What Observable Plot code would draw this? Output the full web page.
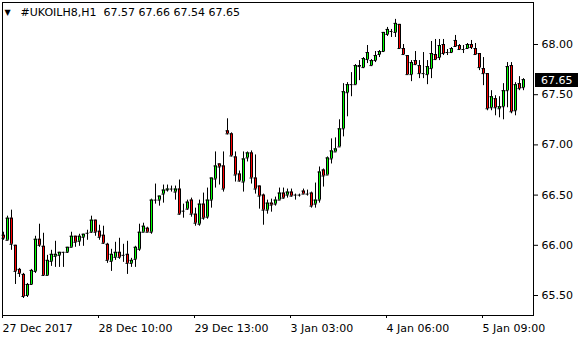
<!DOCTYPE html>
<html><head><meta charset="utf-8">
<script src="https://cdn.jsdelivr.net/npm/d3@7"></script>
<script src="https://cdn.jsdelivr.net/npm/@observablehq/plot@0.6"></script>
<style>html,body{margin:0;padding:0;background:#fff;} svg{display:block;}</style>
</head><body><div id="chart"></div>
<script>
const symbol = "#UKOILH8,H1";
const open = [66.10,66.05,66.27,66.00,65.76,65.71,65.50,65.61,65.74,66.06,
65.99,65.70,65.84,65.89,65.90,65.93,65.93,65.98,66.09,66.04,
66.08,66.12,66.13,66.25,66.14,66.10,66.01,65.84,65.88,65.93,
65.90,65.91,65.82,65.86,65.96,66.13,66.17,66.13,66.45,66.45,
66.51,66.55,66.56,66.53,66.56,66.34,66.36,66.45,66.31,66.21,
66.41,66.28,66.45,66.66,66.81,66.79,67.14,67.11,66.88,66.71,
66.63,66.87,66.92,66.67,66.59,66.50,66.35,66.42,66.41,66.45,
66.52,66.50,66.53,66.50,66.50,66.54,66.51,66.52,66.41,66.45,
66.75,66.70,66.86,66.93,66.98,67.16,67.52,67.60,67.60,67.78,
67.77,67.85,67.79,67.84,67.90,67.93,68.10,68.13,68.12,68.20,
67.96,67.89,67.70,67.84,67.79,67.71,67.70,67.76,67.90,67.87,
68.00,67.92,67.92,68.04,67.99,67.95,67.96,68.00,67.96,67.91,
67.76,67.71,67.37,67.46,67.36,67.38,67.54,67.79,67.34,67.61,
67.57];
const high = [66.13,66.29,66.35,66.00,65.77,65.72,65.62,65.76,66.09,66.21,
66.12,65.90,65.95,66.04,65.93,65.93,65.98,66.13,66.09,66.11,
66.11,66.15,66.29,66.25,66.20,66.19,66.02,65.96,66.03,66.07,
66.01,66.04,65.87,65.99,66.21,66.22,66.18,66.46,66.61,66.49,
66.60,66.60,66.59,66.59,66.65,66.41,66.45,66.47,66.37,66.45,
66.52,66.57,66.67,66.93,66.81,66.93,67.26,67.12,66.93,66.74,
66.93,66.93,66.94,66.90,66.59,66.51,66.45,66.46,66.48,66.57,
66.57,66.56,66.56,66.51,66.51,66.56,66.55,66.53,66.62,66.78,
66.76,66.88,67.06,67.07,67.25,67.61,67.62,67.72,67.80,67.84,
67.87,67.99,67.85,67.93,67.94,68.12,68.17,68.15,68.25,68.20,
68.00,67.89,67.84,67.93,67.84,67.92,67.84,68.03,68.05,68.05,
68.05,67.95,67.97,68.09,68.00,67.99,68.01,68.04,68.01,67.91,
67.87,67.71,67.54,67.49,67.48,67.61,67.82,67.82,67.62,67.68,
67.66];
const low = [66.05,66.05,65.95,65.61,65.68,65.47,65.48,65.60,65.72,65.98,
65.69,65.70,65.79,65.78,65.78,65.78,65.92,65.98,65.98,65.99,
65.99,66.05,66.12,66.09,66.05,66.01,65.82,65.74,65.85,65.86,
65.83,65.71,65.78,65.78,65.94,66.13,66.13,66.11,66.41,66.39,
66.42,66.53,66.53,66.45,66.30,66.27,66.35,66.28,66.19,66.19,
66.25,66.26,66.37,66.57,66.60,66.53,67.10,66.88,66.63,66.63,
66.53,66.83,66.61,66.51,66.36,66.20,66.31,66.33,66.39,66.45,
66.46,66.47,66.48,66.45,66.48,66.51,66.49,66.37,66.37,66.42,
66.58,66.70,66.81,66.93,66.98,67.08,67.28,67.48,67.60,67.64,
67.76,67.81,67.78,67.82,67.87,67.92,68.08,68.07,68.07,67.96,
67.89,67.70,67.63,67.79,67.66,67.66,67.60,67.66,67.84,67.84,
67.89,67.89,67.91,67.97,67.95,67.91,67.95,67.95,67.90,67.74,
67.59,67.34,67.34,67.29,67.27,67.25,67.37,67.31,67.29,67.54,
67.54];
const close = [66.07,66.27,66.01,65.74,65.72,65.49,65.61,65.75,66.06,66.00,
65.70,65.85,65.91,65.91,65.93,65.93,65.98,66.09,66.03,66.09,
66.11,66.13,66.25,66.13,66.08,66.02,65.85,65.91,65.93,65.88,
65.90,65.82,65.85,65.98,66.13,66.19,66.13,66.45,66.45,66.49,
66.55,66.56,66.56,66.56,66.31,66.35,66.43,66.31,66.22,66.41,
66.27,66.45,66.67,66.79,66.78,66.56,67.11,66.89,66.70,66.64,
66.86,66.92,66.67,66.56,66.49,66.35,66.42,66.40,66.45,66.52,
66.47,66.53,66.49,66.50,66.50,66.51,66.51,66.39,66.45,66.73,
66.69,66.87,66.94,66.96,67.16,67.53,67.60,67.59,67.79,67.79,
67.86,67.92,67.84,67.89,67.93,68.12,68.15,68.13,68.21,67.96,
67.90,67.70,67.82,67.80,67.71,67.71,67.78,67.91,67.85,67.99,
67.91,67.92,67.96,67.98,67.95,67.95,68.00,67.97,67.90,67.77,
67.71,67.36,67.48,67.37,67.38,67.54,67.78,67.33,67.60,67.56,
67.65];
const xTickBars = [0, 24, 48, 72, 96, 120];
const xTickLabels = ["27 Dec 2017", "28 Dec 10:00", "29 Dec 13:00", "3 Jan 03:00", "4 Jan 06:00", "5 Jan 09:00"];
const yTicks = [65.5, 66.0, 66.5, 67.0, 67.5, 68.0];

// detect the sub-pixel offset Plot applies to rules, so 1px lines land on pixel centres
const probe = Plot.plot({width: 100, height: 50, margin: 0, x: {domain: [0, 1], range: [10, 20], axis: null}, y: {axis: null},
  marks: [Plot.ruleX([0])]});
document.body.appendChild(probe);
const probeLine = probe.querySelector("line");
const off = (+probeLine.getAttribute("x1") + probeLine.getCTM().e) - 10;
probe.remove();

const bars = open.map((o, i) => ({i, open: o, high: high[i], low: low[i], close: close[i],
  top: Math.max(o, close[i]), bottom: Math.min(o, close[i])}));
const bodies = bars.filter(d => d.top - d.bottom >= 0.01);
const bull = bodies.filter(d => d.close > d.open);
const bear = bodies.filter(d => d.close < d.open);
const dojis = bars.filter(d => d.top - d.bottom < 0.01);
const last = bars[bars.length - 1];
const fmt = d3.format(".2f");
const titleText = symbol + "\u00a0\u00a0" + [last.open, last.high, last.low, last.close].map(fmt).join(" ");
const edgeX1 = d => d.i - 0.375, edgeX2 = d => d.i + 0.375;

const chart = Plot.plot({
  width: 580, height: 340,
  marginLeft: 2.5 - off, marginTop: 2.5 - off, marginRight: 46.5 + off, marginBottom: 24.5 + off,
  x: {domain: [0, 130], range: [3.5 - off, 523.5 - off]},
  y: {domain: [65.5, 68], range: [295.5 - off, 44.5 - off]},
  style: {fontFamily: "DejaVu Sans", fontSize: "11px", color: "black", background: "white", overflow: "visible"},
  marks: [
    Plot.frame({stroke: "black"}),
    Plot.axisY(yTicks, {anchor: "right", tickSize: 4, tickPadding: 4, tickFormat: fmt, label: null, fontSize: 11}),
    Plot.axisX(xTickBars, {anchor: "bottom", tickSize: 3, tickPadding: 6, tickFormat: d => xTickLabels[xTickBars.indexOf(d)], textAnchor: "start", dx: -1, label: null, fontSize: 11}),
    // wicks
    Plot.ruleX(bars, {x: "i", y1: "low", y2: "high", stroke: "black"}),
    // body fill (centre column)
    Plot.ruleX(bull, {x: "i", y1: "top", y2: "bottom", stroke: "#00ff00"}),
    Plot.ruleX(bear, {x: "i", y1: "top", y2: "bottom", stroke: "#ff0000"}),
    // body outline: left, right, top, bottom
    Plot.ruleX(bodies, {x: "i", y1: "top", y2: "bottom", stroke: "black", dx: -1}),
    Plot.ruleX(bodies, {x: "i", y1: "top", y2: "bottom", stroke: "black", dx: 1}),
    Plot.ruleY(bodies, {y: "top", x1: edgeX1, x2: edgeX2, stroke: "black"}),
    Plot.ruleY(bodies, {y: "bottom", x1: edgeX1, x2: edgeX2, stroke: "black"}),
    // doji bars
    Plot.ruleY(dojis, {y: "open", x1: edgeX1, x2: edgeX2, stroke: "black"}),
    Plot.text(["\u25BC"], {frameAnchor: "top-left", dx: 5, dy: 10, fontSize: 8, textAnchor: "middle", lineAnchor: "middle", fill: "black"}),
    Plot.text([titleText], {frameAnchor: "top-left", dx: 18, dy: 10, fontSize: 11, textAnchor: "start", lineAnchor: "middle", fill: "black"})
  ]
});

// current price label on the right axis, positioned with the y scale
const yPos = chart.scale("y").apply(last.close) + off;
const svg = d3.select(chart);
const g = svg.append("g").attr("text-anchor", "start");
g.append("rect").attr("x", 535).attr("y", Math.round(yPos) - 7).attr("width", 43).attr("height", 14).attr("fill", "black");
g.append("text").attr("x", 541).attr("y", yPos).attr("dy", "0.36em").attr("text-anchor", "start")
  .attr("fill", "white").attr("font-family", "DejaVu Sans").attr("font-size", 11).text(fmt(last.close));

document.getElementById("chart").appendChild(chart);
</script>
</body></html>
